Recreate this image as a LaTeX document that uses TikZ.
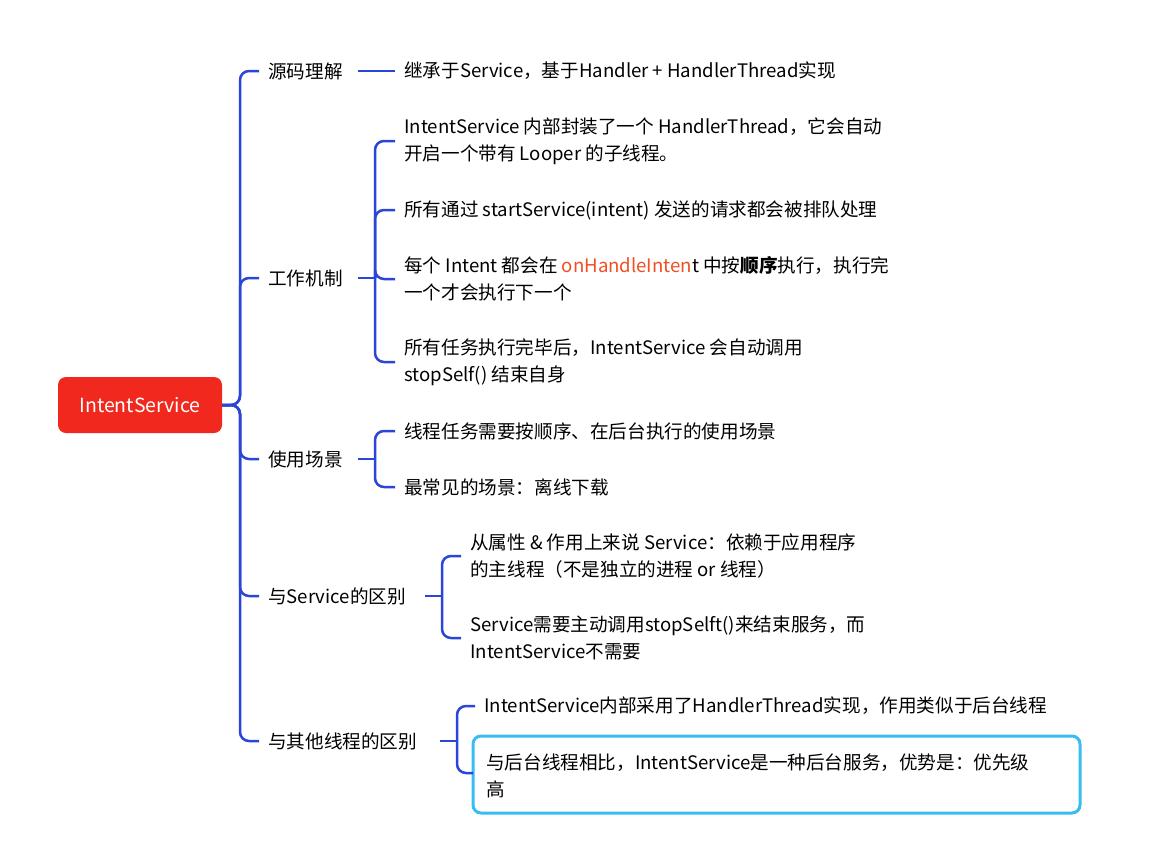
\documentclass[tikz,border=0pt]{standalone}
\usepackage{fontspec}
\setmainfont{Noto Sans CJK SC}
\begin{document}
\begin{tikzpicture}[x=1pt,y=-1pt,
  txt/.style={anchor=west,inner sep=0pt,align=left,font=\fontsize{18.6}{27}\selectfont},
  ln/.style={draw=linkblue,line width=2.5pt,rounded corners=9pt}]
\definecolor{linkblue}{HTML}{2B45D6}
\definecolor{rootred}{HTML}{F0281E}
\definecolor{cyanb}{HTML}{38BDF2}
\definecolor{hl}{HTML}{F04E23}
\useasboundingbox (0,0) rectangle (1166,851);
\node[fill=rootred,rounded corners=8pt,minimum width=164pt,minimum height=56pt,text=white,font=\fontsize{19.5}{20}\selectfont] (root) at (140,405) {IntentService};
% branches
\node[txt] (b1) at (268,71) {源码理解};
\node[txt] (b2) at (268,278) {工作机制};
\node[txt] (b3) at (268,459) {使用场景};
\node[txt] (b4) at (268,596) {与Service的区别};
\node[txt] (b5) at (268,741) {与其他线程的区别};
\draw[ln] (root.east) -- (240,405) |- ([xshift=-9pt]b1.west);
\draw[ln] (root.east) -- (240,405) |- ([xshift=-9pt]b2.west);
\draw[ln] (root.east) -- (240,405) |- ([xshift=-9pt]b3.west);
\draw[ln] (root.east) -- (240,405) |- ([xshift=-9pt]b4.west);
\draw[ln] (root.east) -- (240,405) |- ([xshift=-9pt]b5.west);
% leaves
\node[txt] (l1) at (404,71) {继承于Service，基于Handler + HandlerThread实现};
\draw[ln] (358,71) -- ([xshift=-9pt]l1.west);
\node[txt] (l21) at (404,141) {IntentService 内部封装了一个 HandlerThread，它会自动\\开启一个带有 Looper 的子线程。};
\node[txt] (l22) at (404,210) {所有通过 startService(intent) 发送的请求都会被排队处理};
\node[txt] (l23) at (404,279) {每个 Intent 都会在 \textcolor{hl}{onHandleInten}t 中按\textbf{顺序}执行，执行完\\一个才会执行下一个};
\node[txt] (l24) at (404,362) {所有任务执行完毕后，IntentService 会自动调用\\stopSelf() 结束自身};
\coordinate (j2) at (375,278);
\draw[ln] (358,278) -- (j2);
\foreach \l in {l21,l22,l23,l24}{\draw[ln] (j2) |- ([xshift=-9pt]\l.west);}
\node[txt] (l31) at (404,431) {线程任务需要按顺序、在后台执行的使用场景};
\node[txt] (l32) at (404,487) {最常见的场景：离线下载};
\coordinate (j3) at (375,459);
\draw[ln] (358,459) -- (j3);
\foreach \l in {l31,l32}{\draw[ln] (j3) |- ([xshift=-9pt]\l.west);}
\node[txt] (l41) at (470,556) {从属性 \& 作用上来说 Service：依赖于应用程序\\的主线程（不是独立的进程 or 线程）};
\node[txt] (l42) at (470,638) {Service需要主动调用stopSelft()来结束服务，而\\IntentService不需要};
\coordinate (j4) at (442,596);
\draw[ln] (425,596) -- (j4);
\foreach \l in {l41,l42}{\draw[ln] (j4) |- ([xshift=-9pt]\l.west);}
\node[txt] (l51) at (484,706) {IntentService内部采用了HandlerThread实现，作用类似于后台线程};
\node[txt] (l52) at (486,776) {与后台线程相比，IntentService是一种后台服务，优势是：优先级\\高};
\draw[cyanb,line width=3pt,rounded corners=8pt] (473,736) rectangle (1080,813);
\coordinate (j5) at (457,741);
\draw[ln] (440,741) -- (j5);
\draw[ln] (j5) |- ([xshift=-9pt]l51.west);
\draw[ln] (j5) |- (473,773);
\end{tikzpicture}
\end{document}
